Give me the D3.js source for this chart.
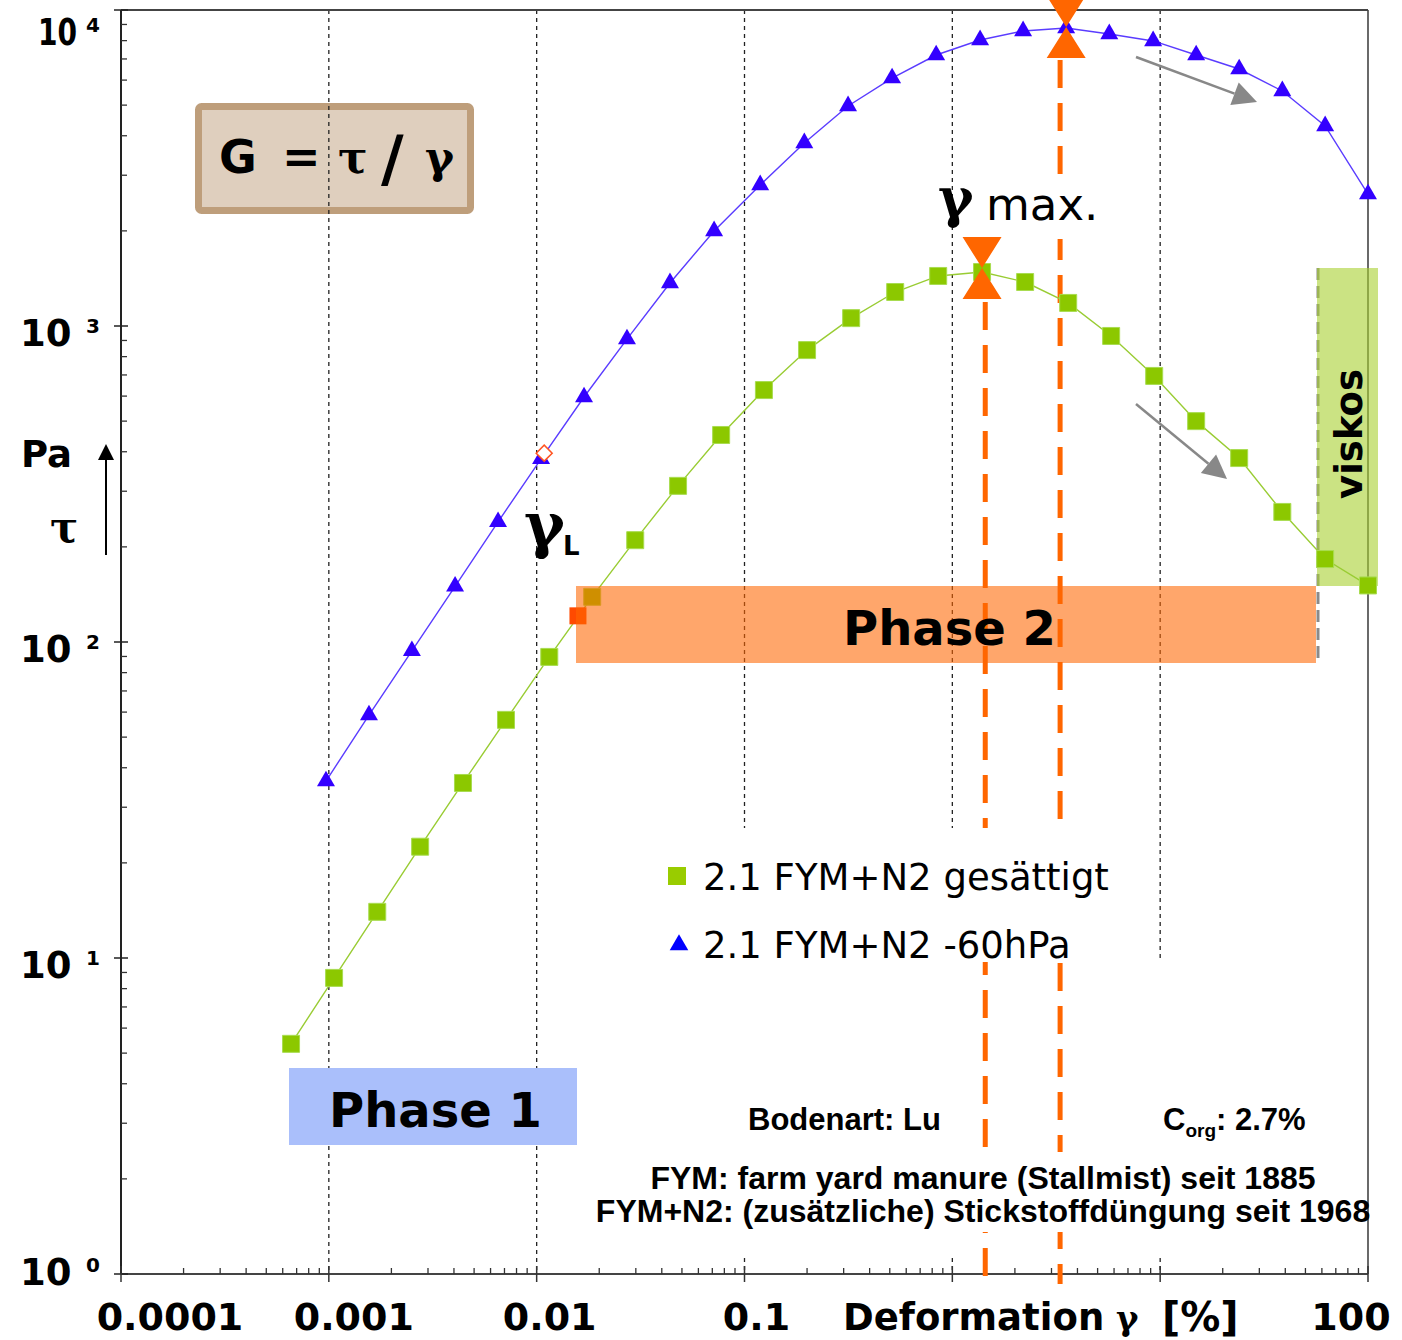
<!DOCTYPE html>
<html><head><meta charset="utf-8">
<script src="https://cdn.jsdelivr.net/npm/d3@7"></script>
<style>body{margin:0;background:#fff}svg{display:block}</style>
</head><body>
<svg id="c" width="1402" height="1340"></svg>
<script>
// ---------- data ----------
const strainSat = [0.000658, 0.00106, 0.00171, 0.00275, 0.00442, 0.00712, 0.0115, 0.0185, 0.0298, 0.0479, 0.0772, 0.124, 0.200, 0.326, 0.531, 0.855, 1.39, 2.24, 3.61, 5.81, 9.36, 14.9, 24.0, 38.7, 62.2, 100];
const tauSat    = [5.35, 8.65, 14.0, 22.5, 35.8, 56.7, 89.7, 139, 210, 312, 452, 627, 839, 1059, 1281, 1440, 1482, 1378, 1183, 930, 695, 500, 382, 258, 183, 151];
const strain60  = [0.000969, 0.00156, 0.00251, 0.00405, 0.00652, 0.0105, 0.0169, 0.0272, 0.0438, 0.0714, 0.119, 0.194, 0.315, 0.513, 0.836, 1.36, 2.19, 3.53, 5.69, 9.25, 14.9, 24.0, 38.7, 62.2, 100];
const tau60     = [36.3, 58.7, 93.7, 150, 240, 380, 596, 909, 1368, 1999, 2794, 3795, 4970, 6091, 7204, 8037, 8582, 8770, 8398, 7981, 7204, 6505, 5543, 4295, 2616];
const gammaLSat = [0.0158, 121];
const gammaL60  = [0.01087, 396];
const gammaMax  = [1.44, 3.30];
const xTickValues = [0.0001, 0.001, 0.01, 0.1, 100];
const xTickLabels = ["0.0001", "0.001", "0.01", "0.1", "100"];
const yTickExps = [0, 1, 2, 3, 4];
const gridValues = [0.001, 0.01, 0.1, 1, 10];
const legendLabels = ["2.1 FYM+N2 gesättigt", "2.1 FYM+N2 -60hPa"];

// ---------- setup ----------
const svg = d3.select("#c");
const x = d3.scaleLog().domain([1e-4, 100]).range([121, 1368]);
const y = d3.scaleLog().domain([1, 1e4]).range([1274, 10]);
const SANS = "'DejaVu Sans', Verdana, sans-serif";
const ARIAL = "'Liberation Sans', Arial, sans-serif";
const SERIF = "'DejaVu Serif', 'Liberation Serif', serif";
const ORANGE = "#ff6600";
const GREEN = "#8cc800", BLUE = "#3300ff";

// 1. G box
svg.append("rect").attr("x", 198.5).attr("y", 106.5).attr("width", 272).attr("height", 104).attr("rx", 3)
  .attr("fill", "#dfcfbe").attr("stroke", "#be9e7b").attr("stroke-width", 7);

// 2. gridlines
svg.append("g").selectAll("line").data(gridValues).join("line")
  .attr("x1", d => x(d)).attr("x2", d => x(d)).attr("y1", y(1e4)).attr("y2", y(1))
  .attr("stroke", "#222").attr("stroke-width", 1.3).attr("stroke-dasharray", "4,4");

// 3. white text area (bottom)
svg.append("rect").attr("x", 592).attr("y", 962).attr("width", 774).attr("height", 293).attr("fill", "#fff");

// 4. frame & ticks
const frame = svg.append("g");
frame.append("line").attr("x1", x(1e-4)).attr("x2", x(100)).attr("y1", y(1e4)).attr("y2", y(1e4)).attr("stroke", "#444").attr("stroke-width", 2);
frame.append("line").attr("x1", x(100)).attr("x2", x(100)).attr("y1", y(1e4)).attr("y2", y(1)).attr("stroke", "#444").attr("stroke-width", 1.6);
frame.append("line").attr("x1", x(1e-4)).attr("x2", x(1e-4)).attr("y1", y(1e4)).attr("y2", y(1)).attr("stroke", "#222").attr("stroke-width", 2);
frame.append("line").attr("x1", x(1e-4)).attr("x2", x(100)).attr("y1", y(1)).attr("y2", y(1)).attr("stroke", "#444").attr("stroke-width", 2);
const yMinor = [], xMinor = [];
for (let e = 0; e < 4; e++) for (let m = 2; m <= 9; m++) yMinor.push(m * Math.pow(10, e));
for (let e = -4; e < 2; e++) for (let m = 2; m <= 9; m++) xMinor.push(m * Math.pow(10, e));
frame.selectAll(".ym").data(yMinor).join("line").attr("x1", x(1e-4)).attr("x2", x(1e-4) + 6)
  .attr("y1", d => y(d)).attr("y2", d => y(d)).attr("stroke", "#333").attr("stroke-width", 1.3);
frame.selectAll(".yM").data(yTickExps).join("line").attr("x1", x(1e-4) - 7).attr("x2", x(1e-4) + 7)
  .attr("y1", d => y(Math.pow(10, d))).attr("y2", d => y(Math.pow(10, d))).attr("stroke", "#222").attr("stroke-width", 1.5);
frame.selectAll(".xm").data(xMinor).join("line").attr("x1", d => x(d)).attr("x2", d => x(d))
  .attr("y1", y(1) - 6).attr("y2", y(1)).attr("stroke", "#333").attr("stroke-width", 1.3);
frame.selectAll(".xM").data([1e-4, 1e-3, 1e-2, 1e-1, 1, 10, 100]).join("line").attr("x1", d => x(d)).attr("x2", d => x(d))
  .attr("y1", y(1) - 8).attr("y2", y(1) + 8).attr("stroke", "#333").attr("stroke-width", 1.5);

// 5. viskos region
svg.append("line").attr("x1", 1318).attr("x2", 1318).attr("y1", 268).attr("y2", 663)
  .attr("stroke", "#8a8a8a").attr("stroke-width", 3).attr("stroke-dasharray", "12,6");
svg.append("rect").attr("x", 1317).attr("y", 268).attr("width", 61).attr("height", 318)
  .attr("fill", "#a8d030").attr("fill-opacity", 0.6);
svg.append("text").attr("transform", "translate(1362,434) rotate(-90)").attr("text-anchor", "middle")
  .attr("font-family", SANS).attr("font-weight", "bold").attr("font-size", 37).text("viskos");

// 6. orange γmax lines
const peakSat = d3.maxIndex(tauSat), peak60 = d3.maxIndex(tau60);
const lineStarts = [y(tauSat[peakSat]) + 30, y(tau60[peak60]) + 32];
svg.append("g").selectAll("line").data(gammaMax).join("line")
  .attr("x1", d => x(d)).attr("x2", d => x(d)).attr("y1", (d, i) => lineStarts[i]).attr("y2", y(1) + 10)
  .attr("stroke", ORANGE).attr("stroke-width", 5).attr("stroke-dasharray", "28,15");

// 7. legend
svg.append("rect").attr("x", 650).attr("y", 828).attr("width", 508).attr("height", 134).attr("fill", "#fff");
const leg = svg.append("g");
leg.append("rect").attr("x", 668).attr("y", 867).attr("width", 18).attr("height", 18).attr("fill", "#99cc00");
leg.append("path").attr("d", d3.symbol(d3.symbolTriangle, 150)()).attr("transform", "translate(679,945)").attr("fill", "#0000ff");
leg.selectAll("text").data(legendLabels).join("text").attr("x", 703).attr("y", (d, i) => 890 + i * 68)
  .attr("font-family", SANS).attr("font-size", 37).attr("fill", "#000").text(d => d);

// 8. γ max label
svg.append("rect").attr("x", 1000).attr("y", 177).attr("width", 105).attr("height", 62).attr("fill", "#fff");
svg.append("text").attr("x", 938).attr("y", 217).attr("font-family", SERIF).attr("font-weight", "bold").attr("font-size", 54).text("γ");
svg.append("text").attr("x", 986).attr("y", 220).attr("font-family", SANS).attr("font-size", 45).text("max.");

// 9. series
const lineGen = d3.line().x(d => x(d[0])).y(d => y(d[1]));
const sat = strainSat.map((s, i) => [s, tauSat[i]]);
const m60 = strain60.map((s, i) => [s, tau60[i]]);
svg.append("path").attr("d", lineGen(sat)).attr("fill", "none").attr("stroke", "#99cc33").attr("stroke-width", 1.4);
svg.append("path").attr("d", lineGen(m60)).attr("fill", "none").attr("stroke", "#5a3cff").attr("stroke-width", 1.4);
svg.append("g").selectAll("path").data(sat).join("path")
  .attr("d", d3.symbol(d3.symbolSquare, 289)()).attr("transform", d => `translate(${x(d[0])},${y(d[1])})`)
  .attr("fill", GREEN).attr("stroke", "#a8dc50").attr("stroke-width", 1);
svg.append("g").selectAll("path").data(m60).join("path")
  .attr("d", d3.symbol(d3.symbolTriangle, 140)()).attr("transform", d => `translate(${x(d[0])},${y(d[1])})`)
  .attr("fill", BLUE);
svg.append("path").attr("d", d3.symbol(d3.symbolSquare, 128)())
  .attr("transform", `translate(${x(gammaL60[0])},${y(gammaL60[1])}) rotate(45)`)
  .attr("fill", "#fff").attr("stroke", "#ff5522").attr("stroke-width", 1.5);
svg.append("path").attr("d", d3.symbol(d3.symbolSquare, 289)())
  .attr("transform", `translate(${x(gammaLSat[0])},${y(gammaLSat[1])})`).attr("fill", "#ff4a00");

// 10. hourglasses
function hourglass(cx, cy) {
  const w = 19.5, h = 31;
  return `M${cx - w},${cy - h}L${cx + w},${cy - h}L${cx},${cy}Z M${cx - w},${cy + h}L${cx + w},${cy + h}L${cx},${cy}Z`;
}
svg.append("path").attr("d", hourglass(x(strainSat[peakSat]), y(tauSat[peakSat]) - 4)).attr("fill", ORANGE);
svg.append("path").attr("d", hourglass(x(strain60[peak60]), y(tau60[peak60]) - 1)).attr("fill", ORANGE);

// 11. Phase boxes
svg.append("rect").attr("x", 576).attr("y", 586).attr("width", 740).attr("height", 77).attr("fill", ORANGE).attr("fill-opacity", 0.58);
svg.append("text").attr("x", 843).attr("y", 645).attr("font-family", SANS).attr("font-weight", "bold").attr("font-size", 48).text("Phase 2");
svg.append("rect").attr("x", 289).attr("y", 1068).attr("width", 288).attr("height", 77).attr("fill", "#aabffb");
svg.append("text").attr("x", 329).attr("y", 1127).attr("font-family", SANS).attr("font-weight", "bold").attr("font-size", 48).text("Phase 1");

// 12. G formula
const gf = svg.append("g").attr("font-weight", "bold").attr("fill", "#000");
gf.append("text").attr("x", 219).attr("y", 173).attr("font-family", SANS).attr("font-size", 46).text("G");
gf.append("text").attr("x", 282).attr("y", 173).attr("font-family", SANS).attr("font-size", 46).text("=");
gf.append("text").attr("x", 338).attr("y", 173).attr("font-family", SERIF).attr("font-size", 44).text("τ");
gf.append("text").attr("x", 381).attr("y", 180).attr("font-family", SANS).attr("font-size", 62).text("/");
gf.append("text").attr("x", 425).attr("y", 173).attr("font-family", SERIF).attr("font-size", 44).text("γ");

// 13. axis labels
const yl = svg.append("g").attr("font-family", SANS).attr("font-weight", "bold").attr("fill", "#000");
yTickExps.forEach(e => {
  const base = Math.max(45, Math.min(1285, y(Math.pow(10, e)) + 20));
  if (e === 4) {
    yl.append("text").attr("transform", `translate(38,${base}) scale(0.76,1)`).attr("font-size", 37).text("10");
  } else {
    yl.append("text").attr("x", 20).attr("y", base).attr("font-size", 37).text("10");
  }
  yl.append("text").attr("x", 86).attr("y", base - 13).attr("font-size", 20).text(String(e));
});
const xLabelDx = [49, 25, 13, 12, -17];
svg.append("g").selectAll("text").data(xTickValues).join("text")
  .attr("x", (d, i) => x(d) + xLabelDx[i]).attr("y", 1330).attr("text-anchor", "middle")
  .attr("font-family", SANS).attr("font-weight", "bold").attr("font-size", 38).text((d, i) => xTickLabels[i]);
svg.append("text").attr("x", 843).attr("y", 1330).attr("font-family", SANS).attr("font-weight", "bold").attr("font-size", 37).text("Deformation");
svg.append("text").attr("x", 1116).attr("y", 1330).attr("font-family", SERIF).attr("font-weight", "bold").attr("font-size", 34).text("γ");
svg.append("text").attr("x", 1162).attr("y", 1331).attr("font-family", SANS).attr("font-weight", "bold").attr("font-size", 40).text("[%]");

svg.append("text").attr("x", 21).attr("y", 467).attr("font-family", SANS).attr("font-weight", "bold").attr("font-size", 37).text("Pa");
svg.append("text").attr("x", 50).attr("y", 542).attr("font-family", SERIF).attr("font-weight", "bold").attr("font-size", 42).text("τ");
svg.append("line").attr("x1", 106).attr("x2", 106).attr("y1", 555).attr("y2", 458).attr("stroke", "#000").attr("stroke-width", 2);
svg.append("path").attr("d", "M98,460L114,460L106,444Z").attr("fill", "#000");

// γL
svg.append("text").attr("x", 524).attr("y", 546).attr("font-family", SERIF).attr("font-weight", "bold").attr("font-size", 62).text("γ");
svg.append("text").attr("x", 563).attr("y", 555).attr("font-family", SANS).attr("font-weight", "bold").attr("font-size", 26).text("L");

// bottom info text
svg.append("rect").attr("x", 594).attr("y", 1152).attr("width", 772).attr("height", 80).attr("fill", "#fff");
const info = svg.append("g").attr("font-family", ARIAL).attr("font-weight", "bold").attr("fill", "#000");
info.append("text").attr("x", 748).attr("y", 1130).attr("font-size", 31).text("Bodenart: Lu");
const corg = info.append("text").attr("x", 1163).attr("y", 1130).attr("font-size", 31);
corg.append("tspan").text("C");
corg.append("tspan").attr("font-size", 19).attr("dy", 7).text("org");
corg.append("tspan").attr("dy", -7).text(": 2.7%");
info.append("text").attr("x", 983).attr("y", 1189).attr("text-anchor", "middle").attr("font-size", 32).text("FYM: farm yard manure (Stallmist) seit 1885");
info.append("text").attr("x", 983).attr("y", 1222).attr("text-anchor", "middle").attr("font-size", 32).text("FYM+N2: (zusätzliche) Stickstoffdüngung seit 1968");

// grey trend arrows
function arrow(x1, y1, x2, y2) {
  const dx = x2 - x1, dy = y2 - y1, L = Math.hypot(dx, dy), ux = dx / L, uy = dy / L;
  const bl = 24, bw = 12;
  const bx = x2 - ux * bl, by = y2 - uy * bl;
  const g = svg.append("g");
  g.append("line").attr("x1", x1).attr("y1", y1).attr("x2", bx).attr("y2", by).attr("stroke", "#888").attr("stroke-width", 2.5);
  g.append("path").attr("d", `M${x2},${y2}L${bx - uy * bw},${by + ux * bw}L${bx + uy * bw},${by - ux * bw}Z`).attr("fill", "#888");
}
arrow(1136, 57, 1257, 102);
arrow(1136, 404, 1227, 479);
</script>
</body></html>
